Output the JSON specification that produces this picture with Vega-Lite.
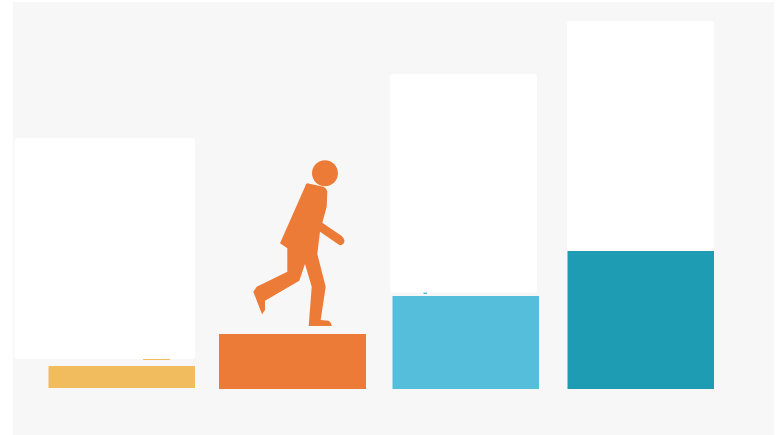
{
 "$schema":"https://vega.github.io/schema/vega-lite/v6.json",
 "width":783,"height":435,"padding":0,
 "autosize":{"type":"fit","contains":"padding"},
 "background":"#ffffff",
 "view":{"stroke":null},
 "datasets":{
  "panel":[{"x":13,"x2":774,"y":2,"y2":435,"kind":"panel"}],
  "bars":[
   {"x":48.5,"x2":195,"y":366,"y2":388,"kind":"step 1"},
   {"x":219,"x2":366,"y":334,"y2":389,"kind":"step 2"},
   {"x":392.5,"x2":539,"y":296,"y2":389,"kind":"step 3"},
   {"x":567.5,"x2":714,"y":251,"y2":389,"kind":"step 4"},
   {"x":143,"x2":170,"y":359,"y2":360,"kind":"step 1"},
   {"x":423.5,"x2":427,"y":292,"y2":294,"kind":"step 3"}
  ],
  "cards":[
   {"x":14.5,"x2":195,"y":138,"y2":359,"kind":"card"},
   {"x":390,"x2":537,"y":74,"y2":292.5,"kind":"card"},
   {"x":567,"x2":714,"y":21,"y2":251,"kind":"card"}
  ],
  "person":[{"x":310,"y":245,"kind":"step 2"}]
 },
 "encoding":{
  "x":{"field":"x","type":"quantitative","scale":{"domain":[0,783],"nice":false,"zero":false},"axis":null},
  "y":{"field":"y","type":"quantitative","scale":{"domain":[435,0],"nice":false,"zero":false},"axis":null},
  "color":{"field":"kind","type":"nominal","legend":null,"scale":{"domain":["panel","card","step 1","step 2","step 3","step 4"],"range":["#f7f7f7","#ffffff","#f0bc5e","#ed7b38","#54bedb","#1e9cb4"]}}
 },
 "layer":[
  {"data":{"name":"panel"},"mark":{"type":"rect"},"encoding":{"x2":{"field":"x2"},"y2":{"field":"y2"}}},
  {"data":{"name":"bars"},"mark":{"type":"rect"},"encoding":{"x2":{"field":"x2"},"y2":{"field":"y2"}}},
  {"data":{"name":"cards"},"mark":{"type":"rect","cornerRadius":3},"encoding":{"x2":{"field":"x2"},"y2":{"field":"y2"}}},
  {"data":{"name":"person"},"mark":{"type":"point","filled":true,"opacity":1,"size":4,"strokeWidth":0,
    "shape":"M28,-71.7 A13,13 0 1 1 2,-71.7 A13,13 0 1 1 28,-71.7 Z M-2.7,-61.7 L13.3,-58.3 Q17,-56.5 17.3,-53.3 L16.7,-38.3 L12.3,-22.3 L31.7,-9 Q36,-5.5 33.5,-1.5 Q31.5,1 29.3,0 L10,-13.3 L7.3,9 L15.7,41.7 L10.7,75 L18.3,75.7 Q21,76.5 21.7,81 L-1.3,81 L1.7,41.7 L-5,19 L-10.7,35.7 L-45,55.7 L-45,65 L-48,69.3 L-56.7,46.7 L-53.3,41.7 L-22.7,26.7 L-22.7,3.3 L-30,-1.7 L-5,-58.3 Q-4.5,-61.5 -2.7,-61.7 Z"}}
 ]
}
